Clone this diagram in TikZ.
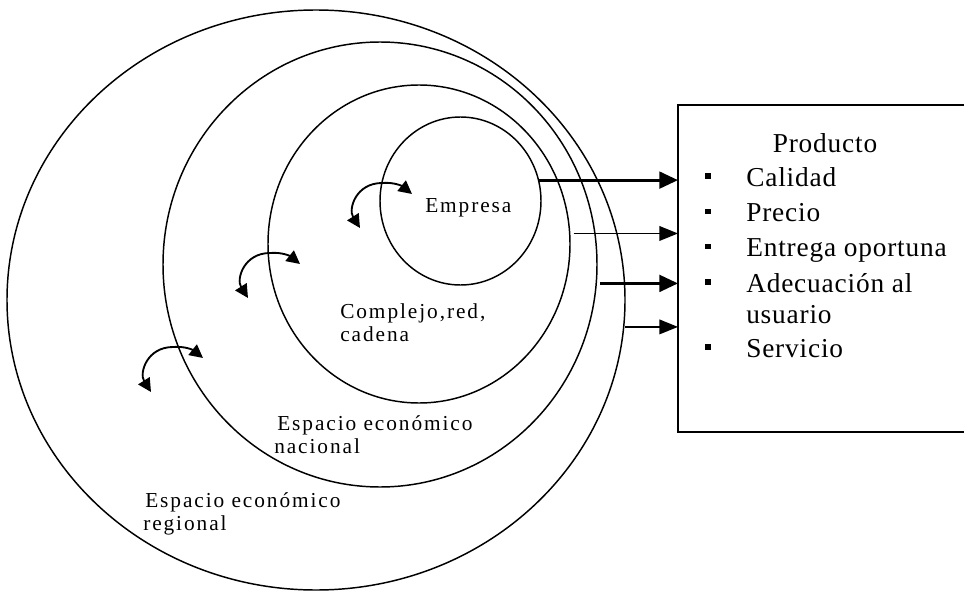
\documentclass[tikz,border=0pt]{standalone}
\usepackage{fontspec}
\setmainfont{Liberation Serif}
\newfontfamily\boxfont[LetterSpace=3]{Liberation Serif}
\newfontfamily\lblfont[LetterSpace=9]{Liberation Serif}
\usetikzlibrary{shapes.geometric,arrows.meta}
\begin{document}
\begin{tikzpicture}[x=0.75pt,y=-0.75pt,
  ring/.style={draw, ellipse, line width=1.1pt, inner sep=0pt, outer sep=0pt},
  thickarr/.style={line width=2.3pt, -{Triangle[length=14pt,width=12.5pt]}},
  thinarr/.style={line width=1.2pt, -{Triangle[length=14pt,width=11pt]}},
  boxtxt/.style={font=\boxfont\fontsize{20.5pt}{24pt}\selectfont, anchor=base west, inner sep=0pt},
  lbl/.style={font=\lblfont\fontsize{16pt}{19pt}\selectfont, anchor=base west, inner sep=0pt},
  bul/.style={fill, minimum size=4.2pt, inner sep=0pt},
  swirl/.pic={\draw[line width=1.4pt, {Triangle[length=10pt,width=10pt]}-{Triangle[length=10pt,width=10pt]}]
     (-22,45) .. controls (-34,26) and (-26,0) .. (0,0) .. controls (12,-1) and (20,3) .. (30,11);}
]
\useasboundingbox (0,0) rectangle (964,592);
% circles
\node[ring, minimum width=463.5pt, minimum height=435pt] (outer) at (316,300) {};
\node[ring, minimum width=325.5pt, minimum height=333.75pt] (nac) at (380,264.5) {};
\node[ring, minimum width=226.5pt, minimum height=238.5pt] (comp) at (419,244) {};
\node[ring, minimum width=120.75pt, minimum height=126pt] (emp) at (460.5,201) {};
% product box
\node[draw, line width=1.2pt, anchor=north west, inner sep=0pt, outer sep=0pt,
      minimum width=222.75pt, minimum height=245.25pt] (box) at (678,105) {};
% arrows
\draw[thickarr] (emp.15.2) -- (emp.15.2 -| box.west);
\draw[thinarr] ([xshift=3pt]comp.4.2) -- (comp.4.2 -| box.west);
\draw[thickarr] ([xshift=3pt]nac.-5.15) -- (nac.-5.15 -| box.west);
\draw[thinarr] ([xshift=1pt]outer.-5.2) -- (outer.-5.2 -| box.west);
% swirl arrows
\pic at (382,183) {swirl};
\pic at (270,253) {swirl};
\pic at (173,347) {swirl};
% labels
\node[lbl] (lemp) at (425,212) {Empresa};
\node[lbl] (lcomp1) at (340,318) {Complejo,red,};
\node[lbl] (lcomp2) at (340,341) {cadena};
\node[lbl] (lnac1) at (277,430) {Espacio económico};
\node[lbl] (lnac2) at (274,453) {nacional};
\node[lbl] (lreg1) at (145,507) {Espacio económico};
\node[lbl] (lreg2) at (143,530) {regional};
% box text
\node[boxtxt, anchor=base] (prod) at (825,152) {Producto};
\node[boxtxt] (t1) at (746,186) {Calidad};
\node[boxtxt] (t2) at (746,221.5) {Precio};
\node[boxtxt] (t3) at (746,256.5) {Entrega oportuna};
\node[boxtxt] (t4) at (746,292) {Adecuación al};
\node[boxtxt] (t4b) at (746,323) {usuario};
\node[boxtxt] (t5) at (746,357) {Servicio};
\node[bul] (b1) at (708,176) {};
\node[bul] (b2) at (708,211.5) {};
\node[bul] (b3) at (708,246.5) {};
\node[bul] (b4) at (708,282) {};
\node[bul] (b5) at (708,347) {};
\end{tikzpicture}
\end{document}
